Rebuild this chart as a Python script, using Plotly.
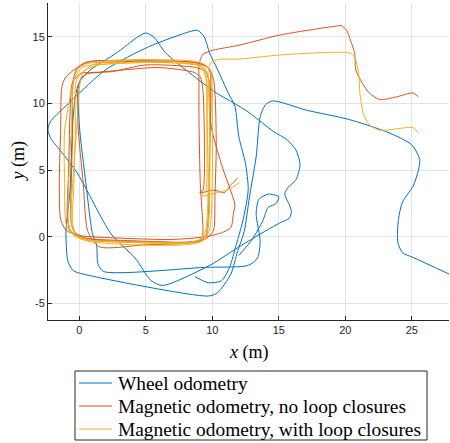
import plotly.graph_objects as go

# ---------------- data (metres) ----------------
wheel_x = [8.7, 9.7, 10.7, 11.3, 11.8, 12.3, 12.7, 12.5, 12.0, 11.7, 11.2, 10.4, 9.8, 9.4, 8.9,
           8.3, 5.3, 2.0, -0.5, -2.2, -2.35, -2.1, -1.6, -0.1, 2.4, 4.2, 5.4, 6.2, 6.9, 9.9,
           12.1, 13.6, 15.1, 15.8, 15.95, 15.8, 15.45, 15.7, 16.3, 16.6, 16.3, 15.6, 14.6, 12.8,
           11.6, 10.3, 8.3, 6.5, 5.6, 5.0, 4.4, 2.8, 0.8, 0.0, -0.3, -0.5, -0.7, -1.0, -0.86,
           -0.5, -0.1, 9.7, 10.4, 11.4, 11.9, 12.4, 12.8, 13.3, 13.6, 14.0, 14.55, 17.1, 20.3,
           23.3, 25.0, 25.6, 25.5, 25.1, 24.3, 24.0, 23.95, 24.3, 25.1, 27.8,
           None,
           -0.1, 0.0, 0.5, 1.0, 1.3, 1.4, 1.8, 9.4, 12.7, 13.4, 13.6, 13.3, 13.5, 14.2, 15.0,
           14.8, 14.2, 13.8, 13.0, 12.0]
wheel_y = [-3.0, -3.45, -3.3, -2.3, -0.6, 1.2, 3.5, 5.5, 7.5, 9.8, 10.8, 12.55, 13.8, 15.0, 15.5,
           15.4, 14.3, 12.55, 10.3, 8.6, 8.0, 7.3, 6.7, 4.7, 0.2, -1.6, -3.3, -3.65, -3.5, -2.1,
           -0.7, 0.2, 1.05, 1.4, 1.9, 2.4, 3.2, 3.7, 4.3, 5.4, 6.5, 7.3, 7.9, 9.3,
           10.05, 10.8, 12.3, 13.8, 15.0, 15.3, 15.0, 13.8, 12.5, 11.6, 10.5, 8.4, 3.4, 0.4, -1.8,
           -2.5, -2.7, -4.45, -4.2, -2.8, -1.1, 0.4, 3.0, 6.0, 9.0, 9.9, 10.2, 9.5, 8.8,
           7.8, 6.9, 5.8, 5.0, 3.8, 2.6, 1.3, -0.4, -1.2, -1.55, -2.8,
           None,
           11.0, 8.4, 4.0, 0.2, -0.6, -2.0, -2.6, -2.3, -2.15, -1.6, -0.3, 1.7, 2.8, 3.2, 3.0,
           2.5, 2.2, 1.2, -0.2, -1.4]

mag_x = [11.9, 11.4, 10.9, 10.2, 9.05, 9.3, 9.4,
         9.4, 9.3, 9.1, 8.6, 6.0, 3.0, 1.0, 0.2, -0.5,
         -0.7, -0.8, -0.9, -0.7, -0.1, 2.0, 6.0, 8.8, 9.5, 9.7,
         9.8, 9.9, 9.8, 9.2, 6.0, 3.0, 1.0, 0.0, -1.0, -1.3,
         -1.4, -1.5, -1.4, -1.0, 0.0, 3.0, 7.0, 9.5, 10.7, 11.4, 11.6,
         11.7, 10.7, 9.9, 9.8, 9.5, 8.8, 5.0, 2.5, 0.8, 0.2,
         -0.1, -0.1, 0.3, 0.65, 1.5, 5.0, 8.55, 9.6, 10.1,
         10.2, 10.3, 10.1, 9.7, 8.5, 5.0, 2.0, 0.5, -0.2, -0.5,
         -0.5, -0.6, -0.6, -0.3, 0.5, 4.0, 8.0, 9.2, 9.3,
         9.1, 9.0, 9.0, 9.0, 9.3, 10.05, 12.1, 15.1, 19.2, 19.7, 20.1, 20.3, 20.7, 20.8,
         21.3, 21.8, 22.6, 23.85, 25.1, 25.5]
mag_y = [4.4, 3.9, 3.3, 3.5, 3.3, 3.5, 4.5,
         8.0, 11.0, 12.0, 12.35, 12.7, 12.5, 12.3, 12.3, 11.6,
         9.0, 5.0, 1.5, 0.5, 0.0, -0.3, -0.4, -0.4, 0.0, 1.5,
         6.0, 11.0, 12.5, 13.0, 13.2, 13.2, 13.2, 12.8, 12.0, 11.3,
         8.0, 4.0, 1.3, 0.5, 0.1, -0.1, -0.2, 0.0, 0.3, 0.7, 1.8,
         2.4, 5.4, 8.4, 11.5, 12.4, 12.7, 12.9, 12.4, 12.3, 12.0,
         11.0, 8.4, 4.0, 0.4, -0.75, -0.6, -0.45, -0.1, 0.5,
         3.0, 7.0, 11.8, 12.7, 13.1, 13.2, 13.1, 13.1, 12.6, 11.5,
         8.0, 4.0, 1.0, 0.3, -0.1, -0.3, -0.4, -0.2, 0.5,
         4.0, 9.0, 12.0, 12.9, 13.7, 14.0, 14.4, 15.15, 15.8, 15.85, 15.5, 15.0, 13.8, 12.5,
         11.5, 10.8, 10.3, 10.5, 10.8, 10.5]

loop_x = [12.05, 11.2, 10.3, 9.2, 9.5, 9.6,
          9.6, 9.6, 9.4, 8.8, 6.0, 3.0, 1.0, 0.2, -0.3,
          -0.5, -1.1, -1.1, -1.0, -0.6, 0.3, 3.0, 7.0, 9.0, 9.6,
          9.8, 9.8, 9.7, 9.3, 8.5, 5.0, 2.0, 0.6, -0.1, -0.4,
          -0.6, -0.8, -0.8, -0.5, 0.5, 4.0, 8.0, 9.3, 9.8,
          10.0, 10.0, 9.9, 9.5, 8.5, 5.0, 2.0, 0.8, 0.2,
          0.0, -0.2, -0.5, -0.6, -0.3, 0.6, 4.0, 8.0, 9.1, 9.5,
          9.7, 9.6, 9.5, 9.1, 8.0, 4.0, 1.5, 0.4, -0.2,
          -0.3, -0.4, -0.5, -0.2, 1.0, 5.0, 8.5, 9.4, 9.7,
          9.8, 9.8, 9.7, 9.9, 10.4, 12.1, 15.1, 19.2, 20.3, 20.7, 21.0, 21.1, 21.35, 21.8,
          22.6, 23.85, 25.1, 25.5]
loop_y = [4.05, 3.55, 3.3, 3.05, 3.4, 4.5,
          8.0, 11.5, 12.6, 12.9, 13.1, 13.0, 12.9, 12.7, 12.0,
          11.4, 8.0, 4.0, 1.0, 0.3, -0.2, -0.4, -0.5, -0.4, 0.2,
          3.0, 8.0, 12.0, 12.8, 13.0, 13.3, 13.1, 13.0, 12.6, 11.8,
          8.0, 4.0, 1.0, 0.2, -0.3, -0.6, -0.6, -0.3, 0.5,
          4.0, 9.0, 12.2, 12.9, 13.2, 13.3, 13.2, 12.8, 12.2,
          11.0, 8.0, 4.0, 1.0, 0.2, -0.2, -0.4, -0.5, -0.2, 0.5,
          4.0, 9.0, 12.0, 12.8, 13.0, 13.1, 12.9, 12.5, 11.8,
          8.0, 4.0, 1.0, 0.1, -0.3, -0.4, -0.4, 0.0, 1.0,
          5.0, 9.0, 12.5, 13.05, 13.3, 13.35, 13.65, 13.85, 13.8, 13.5, 12.3, 10.8, 9.3, 8.4,
          8.0, 8.1, 8.2, 7.8]

series_names = ["Wheel odometry",
                "Magnetic odometry, no loop closures",
                "Magnetic odometry, with loop closures"]
x_ticks = [0, 5, 10, 15, 20, 25]
x_tick_text = ["0", "5", "10", "15", "20", "25"]
y_ticks = [-5, 0, 5, 10, 15]
y_tick_text = ["-5", "0", "5", "10", "15"]

# ---------------- styling ----------------
colors = ["#0072BD", "#D95319", "#EDB120"]
AX = "#262626"
GRID = "#e3e3e3"
SERIF = "Liberation Serif, Times New Roman, serif"
SANS = "Liberation Sans, Arial, Helvetica, sans-serif"

# plot-area geometry in pixels (used to place the legend box below the axes)
W, H = 450, 443
L, R, T, B = 48, 1, 3, 123
PW, PH = W - L - R, H - T - B


def px_x(p):
    return (p - L) / PW


def px_y(p):
    return (H - B - p) / PH


fig = go.Figure()
for xs, ys, name, c in [(wheel_x, wheel_y, series_names[0], colors[0]),
                        (mag_x, mag_y, series_names[1], colors[1]),
                        (loop_x, loop_y, series_names[2], colors[2])]:
    fig.add_trace(go.Scatter(x=xs, y=ys, mode="lines", name=name,
                             line=dict(color=c, width=1, shape="spline", smoothing=0.7),
                             connectgaps=False, showlegend=False))

# legend drawn as a boxed key below the axes
shapes = [dict(type="rect", xref="paper", yref="paper",
               x0=px_x(75), x1=px_x(427), y0=px_y(440), y1=px_y(371),
               line=dict(color=AX, width=1), fillcolor="white", layer="above")]
annotations = []
row_y = [383, 406, 429]
for name, c, ry in zip(series_names, colors, row_y):
    shapes.append(dict(type="line", xref="paper", yref="paper",
                       x0=px_x(79), x1=px_x(112), y0=px_y(ry), y1=px_y(ry),
                       line=dict(color=c, width=1.2), layer="above"))
    annotations.append(dict(text=name, xref="paper", yref="paper",
                            x=px_x(116), y=px_y(ry), xanchor="left", yanchor="middle",
                            showarrow=False,
                            font=dict(family=SERIF, size=19.4, color="black")))

annotations += [
    dict(text="<i>x</i> (m)", xref="paper", yref="paper", x=0.5, y=px_y(352),
         xanchor="center", yanchor="middle", showarrow=False,
         font=dict(family=SERIF, size=18, color="black")),
    dict(text="<i>y</i> (m)", xref="paper", yref="paper", x=px_x(18), y=0.5,
         xanchor="center", yanchor="middle", showarrow=False, textangle=-90,
         font=dict(family=SERIF, size=18, color="black")),
]

fig.update_layout(
    width=W, height=H,
    margin=dict(l=L, r=R, t=T, b=B, autoexpand=False),
    paper_bgcolor="white", plot_bgcolor="white",
    showlegend=False,
    xaxis=dict(range=[-2.35, 27.8], tickmode="array", tickvals=x_ticks, ticktext=x_tick_text,
               showgrid=True, gridcolor=GRID, gridwidth=1, zeroline=False,
               showline=True, linecolor=AX, linewidth=1, mirror=False,
               ticks="inside", ticklen=4, tickcolor=AX,
               tickfont=dict(family=SANS, size=11, color=AX)),
    yaxis=dict(range=[-6.25, 17.55], tickmode="array", tickvals=y_ticks, ticktext=y_tick_text,
               showgrid=True, gridcolor=GRID, gridwidth=1, zeroline=False,
               showline=True, linecolor=AX, linewidth=1, mirror=False,
               ticks="inside", ticklen=4, tickcolor=AX,
               tickfont=dict(family=SANS, size=11, color=AX)),
    shapes=shapes,
    annotations=annotations,
)

fig.write_html("out.html", config={"displayModeBar": False},
               post_script="document.body.style.margin='0';")
